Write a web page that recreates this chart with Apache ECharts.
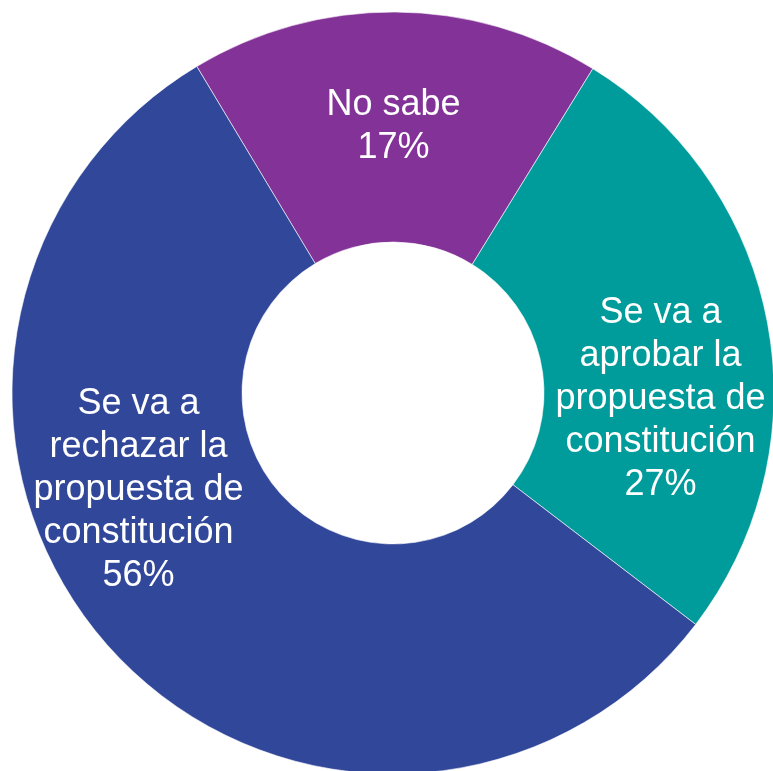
<!DOCTYPE html>
<html>
<head>
<meta charset="utf-8">
<script src="https://cdn.jsdelivr.net/npm/echarts@6/dist/echarts.min.js"></script>
<style>
html,body{margin:0;padding:0;background:#fff;}
#c{width:773px;height:771px;}
</style>
</head>
<body>
<div id="c"></div>
<script>
const categories = ["No sabe", "Se va a\naprobar la\npropuesta de\nconstitución", "Se va a\nrechazar la\npropuesta de\nconstitución"];
const values = [17.4, 26.6, 56.0];
const colors = ["#833397", "#009C9B", "#31479A"];
const labelOffsets = [[-1, 3], [3, 55], [-54, -82]];

const chart = echarts.init(document.getElementById('c'), null, {renderer: 'canvas'});
const data = categories.map((name, i) => ({
  name: name,
  value: values[i],
  itemStyle: {color: colors[i]},
  label: {offset: labelOffsets[i]}
}));
chart.setOption({
  animation: false,
  backgroundColor: '#ffffff',
  series: [{
    type: 'pie',
    center: [393, 393],
    radius: [151, 381],
    startAngle: 121,
    clockwise: true,
    data: data,
    itemStyle: {borderColor: '#ffffff', borderWidth: 0.6},
    label: {
      show: true,
      position: 'inside',
      color: '#ffffff',
      fontFamily: 'Liberation Sans, Arial, sans-serif',
      fontSize: 36,
      lineHeight: 43,
      align: 'center',
      formatter: p => p.name + '\n' + Math.round(p.percent) + '%'
    },
    labelLine: {show: false},
    emphasis: {disabled: true}
  }]
});
</script>
</body>
</html>
